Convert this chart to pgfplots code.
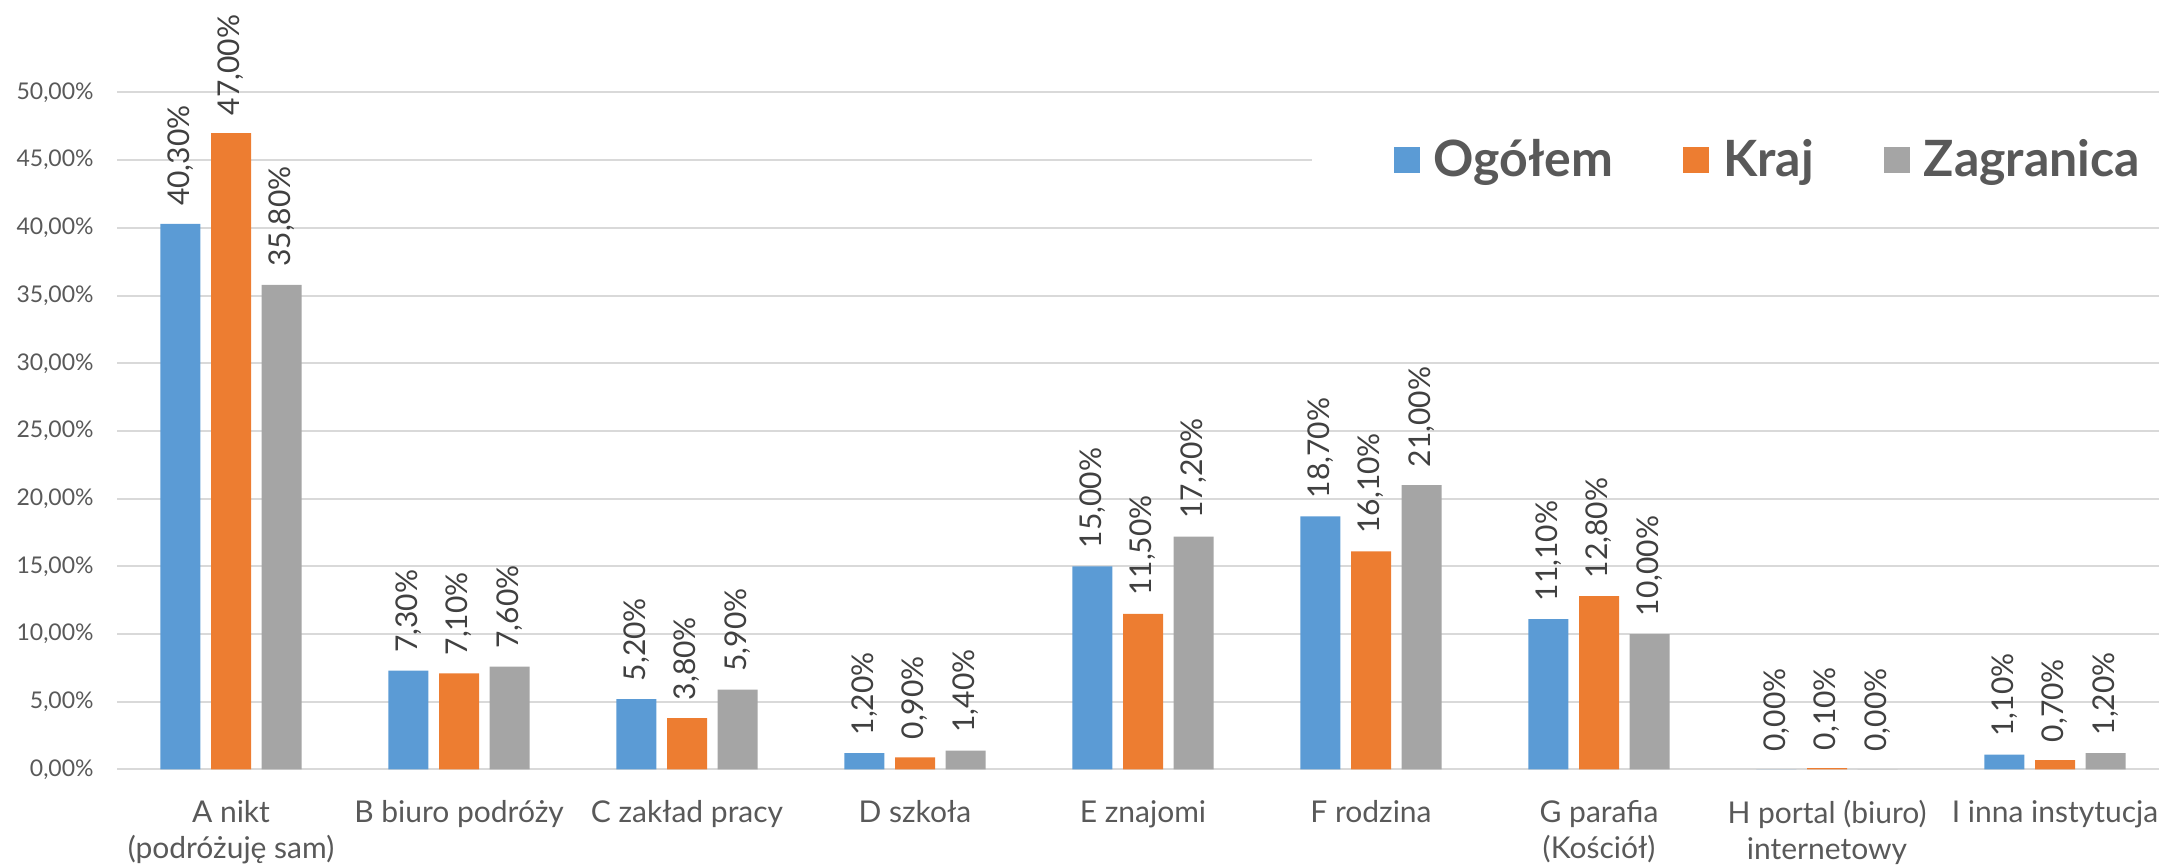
\documentclass[border=0pt]{standalone}
\usepackage{fontspec}
\setmainfont{Lato}
\usepackage{pgfplots}
\pgfplotsset{compat=1.18}
\usepackage{pgfplotstable}

\definecolor{cblue}{HTML}{5B9BD5}
\definecolor{corange}{HTML}{ED7D31}
\definecolor{cgray}{HTML}{A5A5A5}
\definecolor{txt}{HTML}{595959}
\definecolor{lbl}{HTML}{404040}
\definecolor{grd}{HTML}{D9D9D9}

% udzial procentowy: ogolem, kraj, zagranica
\pgfplotstableread{
x ogolem kraj zagr
0 40.3 47.0 35.8
1 7.3  7.1  7.6
2 5.2  3.8  5.9
3 1.2  0.9  1.4
4 15.0 11.5 17.2
5 18.7 16.1 21.0
6 11.1 12.8 10.0
7 0.0  0.1  0.0
8 1.1  0.7  1.2
}\dane

\begin{document}
\begin{tikzpicture}
\begin{axis}[
    scale only axis,
    width=1026pt,
    height=338.5pt,
    xmin=-0.5, xmax=8.5,
    ymin=0, ymax=50,
    ybar,
    bar width=20pt,
    axis line style={draw=none},
    tick style={draw=none},
    ytick={0,5,...,50},
    ymajorgrids,
    grid style={grd, line width=1pt},
    xtick={0,...,8},
    xticklabels={{A nikt\\(podróżuję sam)},{B biuro podróży},{C zakład pracy},{D szkoła},{E znajomi},{F rodzina},{G parafia\\(Kościół)},{H portal (biuro)\\internetowy},{I inna instytucja}},
    x tick label style={font=\fontsize{15}{18}\selectfont, text=txt, align=center, anchor=north, inner sep=0pt, yshift=-11pt},
    /pgf/number format/assume math mode=true,
    yticklabel={\pgfmathprintnumber[fixed,fixed zerofill,precision=2,use comma]{\tick}\%},
    y tick label style={font=\fontsize{11.5}{14}\selectfont, text=txt, anchor=east, inner sep=0pt, xshift=-11.5pt},
    nodes near coords={\pgfmathprintnumber[fixed,fixed zerofill,precision=2,use comma]{\pgfplotspointmeta}\%},
    every node near coord/.append style={rotate=90, anchor=west, inner sep=0pt, outer xsep=9pt, font=\fontsize{15}{18}\selectfont, text=lbl},
    legend columns=3,
    legend style={draw=none, fill=white, at={(rel axis cs:0.5824,0.912)}, anchor=west,
        inner xsep=40.5pt, inner ysep=5pt,
        font=\fontsize{25}{30}\selectfont\bfseries, text=txt,
        nodes={inner sep=0pt},
        /tikz/every odd column/.append style={column sep=7pt},
        /tikz/every even column/.append style={column sep=35pt}},
]
\addplot[fill=cblue, draw=none, bar shift=-25.3pt,
    legend image code/.code={\fill[cblue] (0pt,-6.5pt) rectangle (13pt,6.5pt); \path (0pt,17.5pt);}]
    table[x=x, y=ogolem] {\dane};
\addplot[fill=corange, draw=none, bar shift=0pt,
    legend image code/.code={\fill[corange] (0pt,-6.5pt) rectangle (13pt,6.5pt); \path (0pt,17.5pt);}]
    table[x=x, y=kraj] {\dane};
\addplot[fill=cgray, draw=none, bar shift=25.3pt,
    legend image code/.code={\fill[cgray] (0pt,-6.5pt) rectangle (13pt,6.5pt); \path (0pt,17.5pt);}]
    table[x=x, y=zagr] {\dane};
\legend{Ogółem, Kraj, Zagranica}
\coordinate (LL) at (rel axis cs:0,0);
\coordinate (UR) at (rel axis cs:1,1);
\end{axis}
\pgfresetboundingbox
\path ([shift={(-58.5pt,-48.75pt)}]LL) rectangle ([shift={(-5pt,46.25pt)}]UR);
\end{tikzpicture}
\end{document}
